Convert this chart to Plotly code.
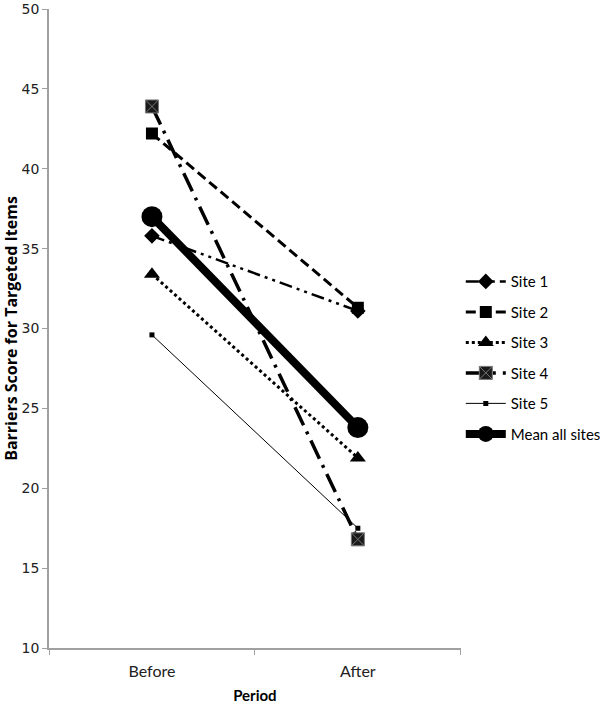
import plotly.graph_objects as go

periods = ["Before", "After"]
site1 = [35.8, 31.1]
site2 = [42.2, 31.3]
site3 = [33.4, 21.9]
site4 = [43.9, 16.8]
site5 = [29.6, 17.5]
mean_all = [37.0, 23.8]
y_ticks = [10, 15, 20, 25, 30, 35, 40, 45, 50]

fig = go.Figure()

series = [
    ("Site 1", site1, dict(color="black", width=2.5, dash="13px,5px,3px,5px,3px,5px"),
     dict(symbol="diamond", size=12, color="black")),
    ("Site 2", site2, dict(color="black", width=3, dash="10px,5px"),
     dict(symbol="square", size=12, color="black")),
    ("Site 3", site3, dict(color="black", width=3, dash="dot"),
     dict(symbol="triangle-up", size=14, color="black")),
    ("Site 4", site4, dict(color="black", width=3.5, dash="20px,7px,3px,7px"),
     dict(symbol="square-x", size=13, color="#1a1a1a", line=dict(color="#777", width=1))),
    ("Site 5", site5, dict(color="black", width=1),
     dict(symbol="square", size=5, color="black")),
    ("Mean all sites", mean_all, dict(color="black", width=8),
     dict(symbol="circle", size=21, color="black")),
]

for i, (name, vals, line, marker) in enumerate(series):
    fig.add_trace(go.Scatter(x=periods, y=vals, name=name, mode="lines+markers",
                             line=line, marker=marker, legendgroup=f"g{i}"))

fig.update_layout(
    width=600, height=704,
    margin=dict(l=49, r=137, t=9, b=56),
    paper_bgcolor="white", plot_bgcolor="white",
    font=dict(family="Lato, Open Sans, sans-serif", color="black"),
    showlegend=True,
    legend=dict(xref="container", yref="container",
                x=0.768, xanchor="left", y=0.492, yanchor="middle",
                font=dict(size=15, family="Lato, sans-serif"),
                tracegroupgap=8, itemwidth=40, bgcolor="rgba(0,0,0,0)"),
)

fig.update_xaxes(
    type="category", range=[-0.5, 1.5], automargin=False,
    showline=True, linecolor="#a0a0a0", linewidth=1.5,
    ticks="outside", tickson="boundaries", ticklen=5, tickcolor="#a0a0a0",
    showgrid=False, zeroline=False, ticklabelstandoff=8,
    tickfont=dict(size=16, family="Lato, sans-serif", color="#222"),
    title=dict(text="<b>Period</b>", font=dict(size=15, family="Lato, sans-serif"), standoff=13),
)
fig.update_yaxes(
    range=[10, 50], tickvals=y_ticks, automargin=False,
    showline=True, linecolor="#a0a0a0", linewidth=1.5,
    ticks="outside", ticklen=5, tickcolor="#a0a0a0",
    showgrid=False, zeroline=False, ticklabeloverflow="allow",
    tickfont=dict(size=14, family="DejaVu Sans, sans-serif", color="#222"),
    title=dict(text="<b>Barriers Score for Targeted Items</b>",
               font=dict(size=16, family="Open Sans, sans-serif"), standoff=4),
)

fig.write_html("out.html", config={"displayModeBar": False},
               post_script="document.body.style.margin='0';document.body.style.padding='0';")
